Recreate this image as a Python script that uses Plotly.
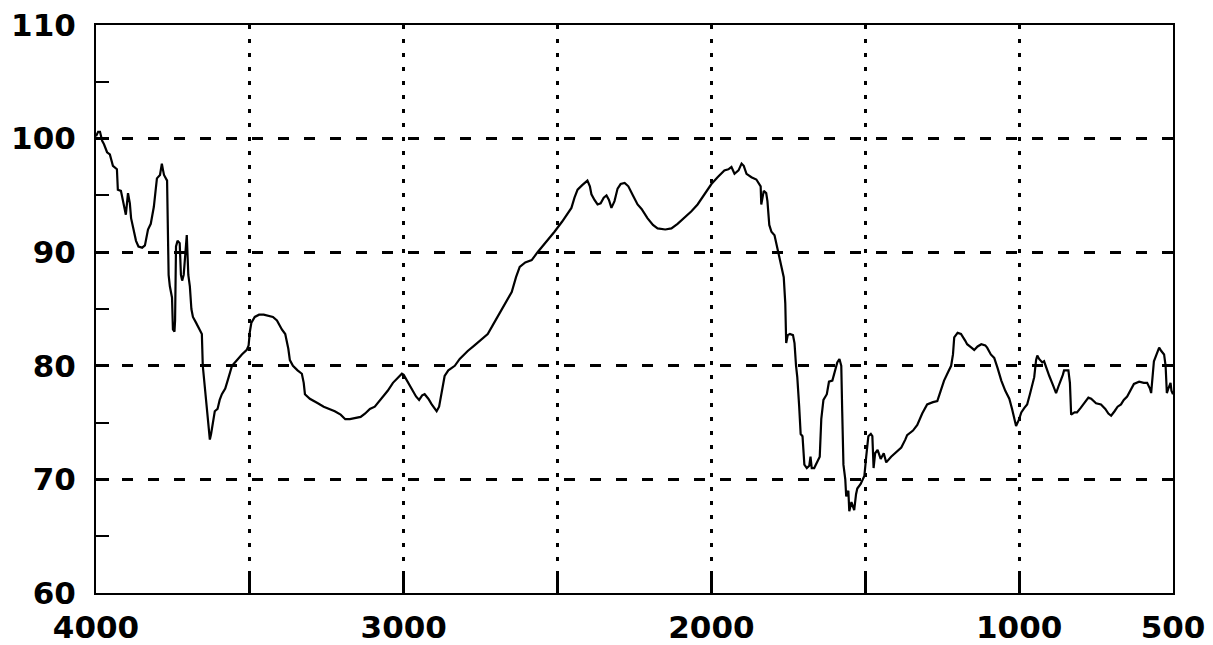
import plotly.graph_objects as go

# Wavenumber (cm^-1) and transmittance (%)
wavenumber = [
    4000, 3993, 3987, 3980, 3974, 3964, 3955, 3945, 3932, 3929, 3919, 3912, 3906, 3903, 3896, 3890,
    3886, 3880, 3870, 3862, 3850, 3841, 3835, 3831, 3822, 3818, 3812, 3806, 3802, 3792, 3786, 3782,
    3779, 3769, 3767, 3764, 3760, 3753, 3750, 3745, 3743, 3740, 3735, 3728, 3724, 3720, 3715, 3708,
    3705, 3700, 3695, 3690, 3685, 3675, 3669, 3660, 3656, 3653, 3648, 3643, 3638, 3634, 3630, 3626,
    3623, 3618, 3614, 3605, 3598, 3591, 3580, 3571, 3565, 3558, 3545, 3526, 3510, 3504, 3500, 3495,
    3484, 3470, 3455, 3442, 3425, 3412, 3405, 3396, 3385, 3375, 3370, 3360, 3345, 3331, 3325, 3321,
    3305, 3290, 3279, 3260, 3240, 3224, 3205, 3190, 3175, 3160, 3140, 3125, 3110, 3094, 3075, 3052,
    3035, 3020, 3006, 3000, 2990, 2974, 2960, 2950, 2940, 2932, 2920, 2909, 2900, 2893, 2885, 2877,
    2870, 2867, 2855, 2845, 2834, 2818, 2805, 2792, 2770, 2750, 2727, 2710, 2695, 2682, 2665, 2649,
    2635, 2623, 2605, 2584, 2565, 2540, 2510, 2485, 2470, 2455, 2445, 2435, 2420, 2403, 2395, 2390,
    2380, 2370, 2360, 2350, 2341, 2333, 2325, 2315, 2305, 2295, 2282, 2270, 2255, 2240, 2227, 2208,
    2190, 2175, 2150, 2130, 2110, 2088, 2065, 2045, 2020, 2000, 1980, 1958, 1945, 1935, 1925, 1912,
    1902, 1895, 1886, 1870, 1854, 1845, 1840, 1838, 1830, 1822, 1818, 1812, 1805, 1795, 1786, 1780,
    1770, 1765, 1760, 1757, 1752, 1745, 1735, 1730, 1725, 1721, 1715, 1710, 1704, 1698, 1690, 1682,
    1678, 1674, 1666, 1660, 1648, 1643, 1636, 1625, 1618, 1607, 1600, 1591, 1584, 1578, 1575, 1571,
    1565, 1562, 1555, 1552, 1545, 1536, 1530, 1526, 1515, 1503, 1497, 1490, 1482, 1477, 1473, 1468,
    1460, 1450, 1440, 1432, 1416, 1400, 1383, 1370, 1364, 1345, 1331, 1315, 1299, 1280, 1266, 1255,
    1244, 1230, 1221, 1215, 1211, 1200, 1189, 1175, 1169, 1155, 1146, 1135, 1123, 1110, 1104, 1092,
    1081, 1070, 1058, 1045, 1032, 1023, 1016, 1010, 1000, 993, 983, 974, 965, 955, 951, 945,
    941, 935, 925, 919, 910, 902, 890, 880, 872, 864, 858, 854, 840, 835, 831, 820,
    812, 800, 785, 775, 766, 750, 734, 720, 710, 701, 690, 680, 669, 660, 649, 640,
    627, 610, 595, 584, 575, 571, 566, 562, 555, 545, 538, 529, 524, 520, 515, 508,
    505, 500,
]

transmittance = [
    100.2, 100.6, 100.6, 99.8, 99.5, 98.8, 98.6, 97.6, 97.3, 95.5, 95.4, 94.5, 93.8, 93.3, 95.2, 94.3,
    93.0, 92.2, 91.0, 90.5, 90.4, 90.6, 91.5, 92.0, 92.5, 93.0, 94.0, 95.5, 96.5, 96.8, 97.8, 97.2,
    96.8, 96.3, 93.5, 88.0, 87.0, 86.0, 83.2, 83.0, 84.0, 90.5, 91.0, 90.8, 88.0, 87.5, 88.0, 91.2,
    91.5, 88.0, 87.0, 85.0, 84.3, 83.8, 83.5, 83.0, 82.8, 80.0, 78.5, 77.0, 75.5, 74.5, 73.5, 74.0,
    74.6, 75.5, 76.0, 76.2, 77.0, 77.5, 78.0, 78.8, 79.3, 80.0, 80.4, 81.0, 81.4, 81.8, 83.0, 83.8,
    84.3, 84.5, 84.5, 84.4, 84.3, 84.0, 83.6, 83.2, 82.8, 81.5, 80.5, 80.0, 79.6, 79.3, 78.5, 77.5,
    77.1, 76.9, 76.7, 76.4, 76.2, 76.0, 75.7, 75.3, 75.3, 75.4, 75.5, 75.8, 76.2, 76.4, 77.0, 77.8,
    78.5, 78.9, 79.3, 79.2, 78.7, 78.0, 77.3, 77.0, 77.4, 77.5, 77.1, 76.6, 76.2, 76.0, 76.4, 77.5,
    78.5, 79.1, 79.6, 79.8, 80.0, 80.6, 81.0, 81.3, 81.8, 82.3, 82.8, 83.6, 84.3, 85.0, 85.8, 86.5,
    87.8, 88.7, 89.1, 89.3, 90.0, 90.8, 91.8, 92.7, 93.3, 93.9, 94.8, 95.5, 95.9, 96.3, 95.8, 95.1,
    94.6, 94.2, 94.3, 94.8, 95.0, 94.6, 93.9, 94.5, 95.6, 96.0, 96.1, 95.8, 95.0, 94.2, 93.8, 93.0,
    92.4, 92.1, 92.0, 92.1, 92.5, 93.0, 93.6, 94.2, 95.2, 96.0, 96.6, 97.2, 97.3, 97.5, 96.9, 97.2,
    97.8, 97.6, 96.9, 96.6, 96.4, 96.0, 95.8, 94.2, 95.4, 95.2, 94.5, 92.4, 91.8, 91.5, 90.3, 89.8,
    88.5, 87.8, 85.5, 82.0, 82.7, 82.8, 82.7, 82.0, 80.0, 79.0, 76.5, 74.0, 73.8, 71.3, 71.0, 71.2,
    72.0, 71.0, 71.0, 71.3, 72.0, 75.3, 77.0, 77.5, 78.6, 78.7, 79.5, 80.3, 80.6, 80.0, 76.0, 71.3,
    70.0, 68.5, 69.0, 67.2, 68.0, 67.3, 68.7, 69.2, 69.6, 70.3, 72.0, 73.8, 74.0, 73.8, 71.0, 72.3,
    72.6, 71.8, 72.3, 71.5, 72.0, 72.4, 72.8, 73.5, 73.9, 74.3, 74.8, 75.8, 76.6, 76.8, 76.9, 77.8,
    78.7, 79.5, 80.0, 81.0, 82.5, 82.9, 82.8, 82.2, 81.9, 81.6, 81.4, 81.7, 81.9, 81.8, 81.6, 81.0,
    80.7, 79.8, 78.7, 77.8, 77.1, 76.2, 75.3, 74.7, 75.3, 75.9, 76.3, 76.6, 77.5, 78.5, 79.0, 80.5,
    80.9, 80.6, 80.3, 80.4, 79.6, 79.1, 78.3, 77.6, 78.2, 78.7, 79.2, 79.6, 79.6, 78.5, 75.7, 75.9,
    75.9, 76.3, 76.8, 77.2, 77.1, 76.7, 76.6, 76.2, 75.8, 75.6, 76.0, 76.4, 76.6, 77.0, 77.3, 77.8,
    78.4, 78.6, 78.5, 78.5, 78.0, 77.6, 79.0, 80.4, 80.9, 81.6, 81.3, 81.0, 80.0, 77.6, 78.0, 78.5,
    77.8, 77.5,
]

x_tickvals = [4000, 3500, 3000, 2500, 2000, 1500, 1000, 500]
x_ticktext = ["4000", "", "3000", "", "2000", "", "1000", "500"]
y_tickvals = [60, 70, 80, 90, 100, 110]
y_ticktext = ["60", "70", "80", "90", "100", "110"]

fig = go.Figure()
fig.add_trace(go.Scatter(
    x=wavenumber, y=transmittance, mode="lines",
    line=dict(color="black", width=2.2),
    showlegend=False, hoverinfo="skip",
))

tick_font = dict(family="DejaVu Sans", size=31, color="black", weight="bold")

fig.update_layout(
    width=1213, height=645,
    margin=dict(l=96, r=40, t=25, b=52),
    paper_bgcolor="white", plot_bgcolor="white",
    xaxis=dict(
        range=[4000, 500], tickmode="array", tickvals=x_tickvals, ticktext=x_ticktext,
        showline=True, linecolor="black", linewidth=2, mirror=True,
        ticks="inside", ticklen=19, tickwidth=3, tickcolor="black",
        showgrid=True, gridcolor="black", gridwidth=3, griddash="4px,10px",
        zeroline=False, tickfont=tick_font, ticklabelstandoff=6, automargin=False,
    ),
    yaxis=dict(
        range=[60, 110], tickmode="array", tickvals=y_tickvals, ticktext=y_ticktext,
        showline=True, linecolor="black", linewidth=2, mirror=True,
        ticks="inside", ticklen=13, tickwidth=3, tickcolor="black",
        minor=dict(ticks="inside", ticklen=13, tickwidth=2, tickcolor="black",
                   tickvals=[65, 75, 85, 95, 105], showgrid=False),
        showgrid=True, gridcolor="black", gridwidth=3, griddash="11px,15px",
        zeroline=False, tickfont=tick_font, ticklabelstandoff=12, automargin=False,
    ),
)

fig.write_html("out.html")
